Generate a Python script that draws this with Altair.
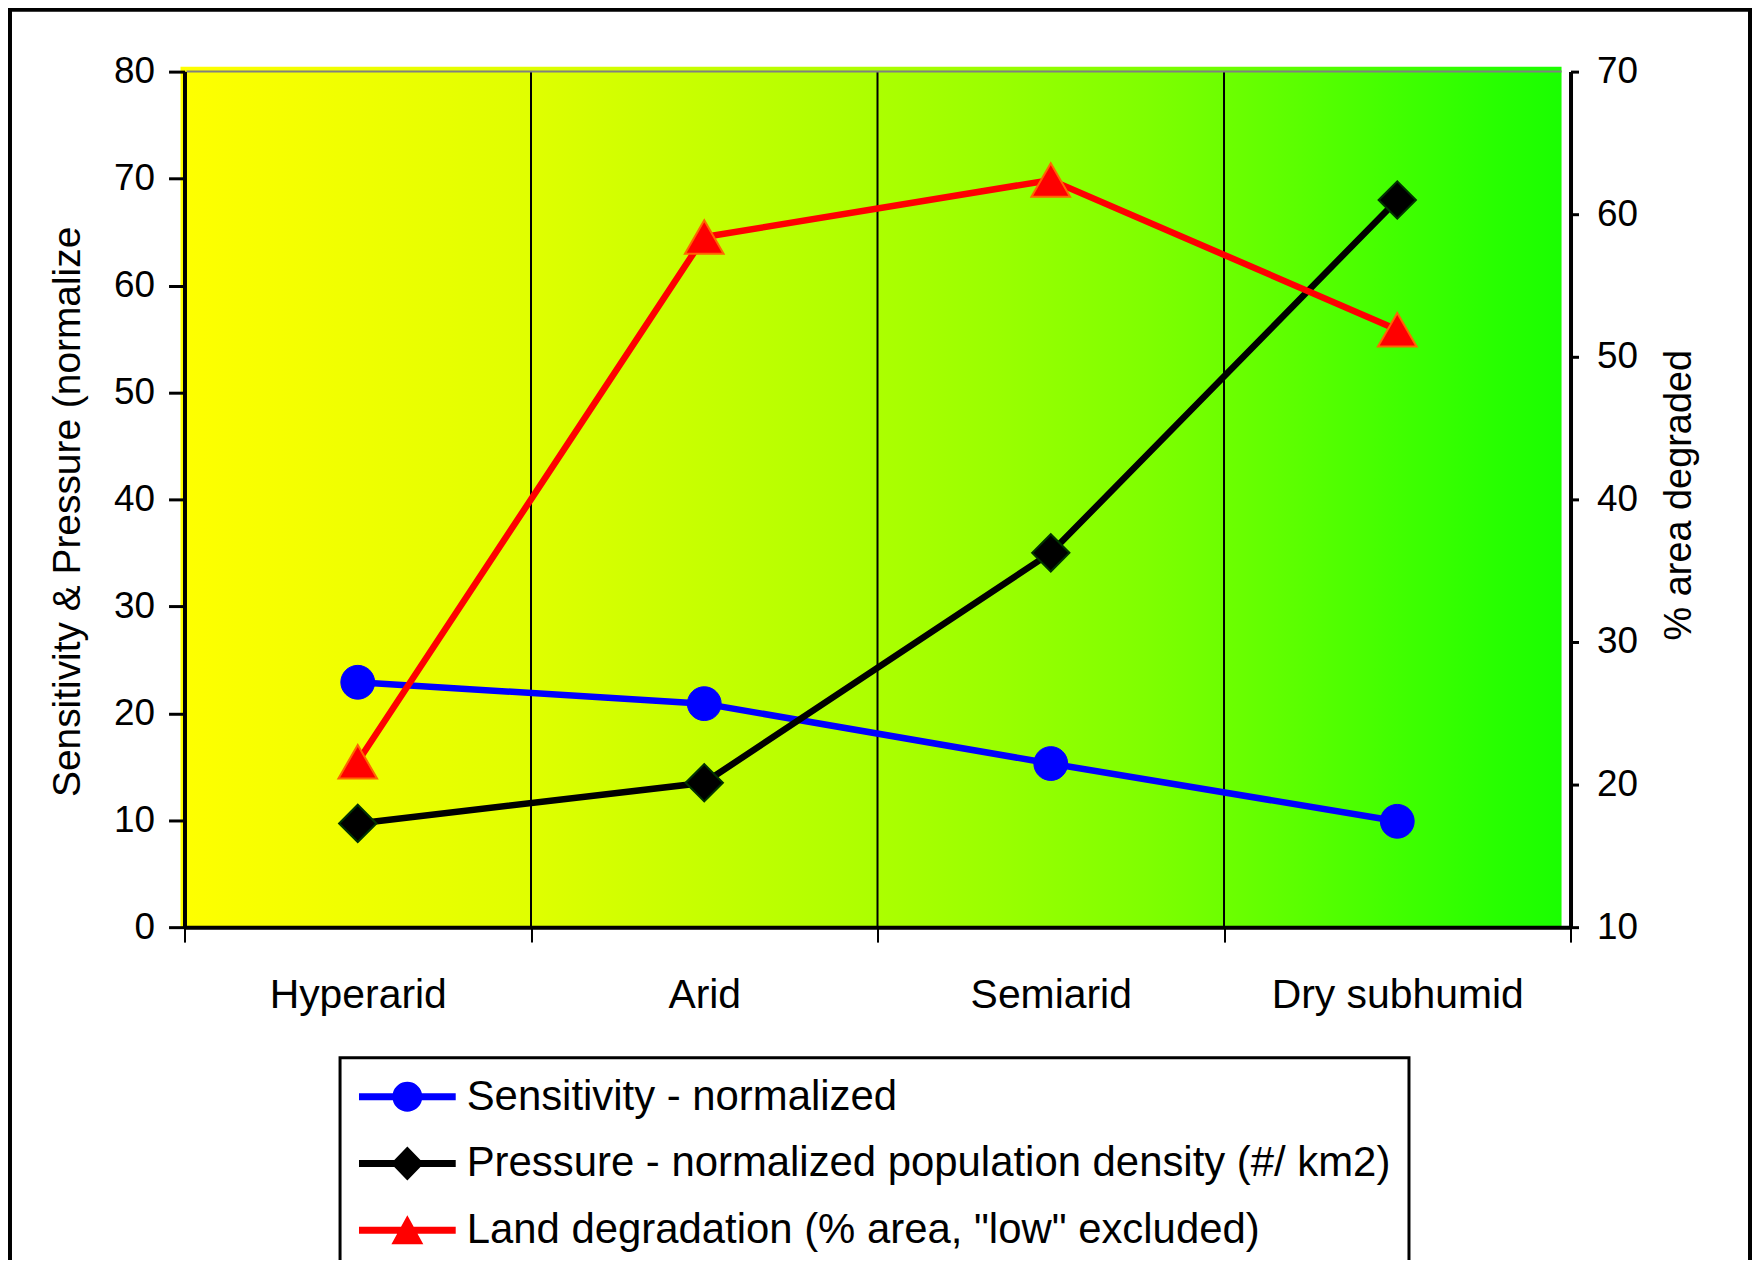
import altair as alt
import pandas as pd

# ---------------- data ----------------
categories = ["Hyperarid", "Arid", "Semiarid", "Dry subhumid"]
sensitivity = [22.9, 20.9, 15.3, 9.9]
pressure = [9.7, 13.5, 35.0, 68.0]
degradation = [21.6, 58.4, 62.4, 51.9]

series_names = [
    "Sensitivity - normalized",
    "Pressure - normalized population density (#/ km2)",
    'Land degradation (% area, "low" excluded)',
]
series_colors = ["#0000FF", "#000000", "#FF0000"]
left_ticks = [0, 10, 20, 30, 40, 50, 60, 70, 80]
right_ticks = [10, 20, 30, 40, 50, 60, 70]
left_title = "Sensitivity & Pressure (normalize"
right_title = "% area degraded"

# ---------------- style ----------------
FONT = "Liberation Sans"
W, H = 1390, 858

# legend symbols: line segment + marker (unit = 20 px)
legend_paths = [
    "M -1 -0.175 L 0.6957 -0.175 A 0.75 0.75 0 0 1 2.1543 -0.175 L 3.85 -0.175 "
    "L 3.85 0.175 L 2.1543 0.175 A 0.75 0.75 0 0 1 0.6957 0.175 L -1 0.175 Z",
    "M -1 -0.175 L 0.77 -0.175 L 1.425 -0.85 L 2.08 -0.175 L 3.85 -0.175 "
    "L 3.85 0.175 L 2.08 0.175 L 1.425 0.85 L 0.77 0.175 L -1 0.175 Z",
    "M -1 -0.175 L 1.108 -0.175 L 1.425 -0.75 L 1.742 -0.175 L 3.85 -0.175 "
    "L 3.85 0.175 L 1.935 0.175 L 2.225 0.7 L 0.625 0.7 L 0.915 0.175 L -1 0.175 Z",
]

sens_df = pd.DataFrame({"category": categories, "value": sensitivity})
pres_df = pd.DataFrame({"category": categories, "value": pressure})
deg_df = pd.DataFrame({"category": categories, "deg": degradation})
cat_df = pd.DataFrame({"category": categories})
legend_df = pd.DataFrame({"category": categories[:3], "series": series_names,
                          "value": [None, None, None]})
one = alt.Data(values=[{"k": 1}])

x_scale = alt.Scale(type="band", domain=categories, paddingInner=0, paddingOuter=0)
x_axis = alt.Axis(title=None, labelAngle=0, tickBand="extent", grid=False,
                  domainColor="black", domainWidth=4, tickColor="black",
                  tickWidth=2, tickSize=15, labelFont=FONT, labelFontSize=41,
                  labelColor="black", labelPadding=34, labelLimit=1000,
                  labelOverlap=False, zindex=1)
x_enc = alt.X("category:N", sort=categories, scale=x_scale, axis=x_axis)

y_left = alt.Y(
    "value:Q",
    scale=alt.Scale(domain=[0, 80], nice=False, zero=False),
    axis=alt.Axis(title=left_title, values=left_ticks, orient="left", grid=False,
                  domainColor="black", domainWidth=4, tickColor="black",
                  tickWidth=3, tickSize=16, labelFont=FONT, labelFontSize=37,
                  labelColor="black", labelPadding=14,
                  titleFont=FONT, titleFontSize=39, titleFontWeight="normal",
                  titleColor="black", titleAngle=270, titleAlign="left",
                  titleBaseline="middle", titleX=-117, titleY=727, zindex=1),
)
y_right = alt.Y(
    "deg:Q",
    scale=alt.Scale(domain=[10, 70], nice=False, zero=False),
    axis=alt.Axis(title=right_title, values=right_ticks, orient="right", grid=False,
                  domainColor="black", domainWidth=4, tickColor="black",
                  tickWidth=3, tickSize=8, labelFont=FONT, labelFontSize=37,
                  labelColor="black", labelPadding=18,
                  titleFont=FONT, titleFontSize=38, titleFontWeight="normal",
                  titleColor="black", titleAngle=270, titleAlign="left",
                  titleBaseline="middle", titleX=109, titleY=570, zindex=1),
)

gradient = alt.LinearGradient(
    gradient="linear",
    stops=[
        alt.GradientStop(color="#FFFF00", offset=0),
        alt.GradientStop(color="#E0FF00", offset=0.251),
        alt.GradientStop(color="#9AFF00", offset=0.591),
        alt.GradientStop(color="#7FFF00", offset=0.70),
        alt.GradientStop(color="#5BFF00", offset=0.808),
        alt.GradientStop(color="#28FF00", offset=0.952),
        alt.GradientStop(color="#1AFF00", offset=1),
    ],
    x1=0, x2=1, y1=0, y2=0,
)

bg = alt.Chart(one).mark_rect(color=gradient).encode(
    x=alt.value(-4), x2=alt.value(W - 9), y=alt.value(-5), y2=alt.value(H)
)
seps = alt.Chart(cat_df).mark_rule(color="black", strokeWidth=2).encode(
    x=alt.X("category:N", sort=categories, scale=x_scale, axis=x_axis, bandPosition=0),
    y=alt.value(0), y2=alt.value(H),
)
topline = alt.Chart(one).mark_rule(color="#808080", strokeWidth=2).encode(
    x=alt.value(2), x2=alt.value(W - 9), y=alt.value(0)
)

blue_line = alt.Chart(sens_df).mark_line(color=series_colors[0], strokeWidth=6.5).encode(
    x=x_enc, y=y_left)
blue_pts = alt.Chart(sens_df).mark_point(shape="circle", filled=True, fill=series_colors[0],
                                         stroke=series_colors[0], strokeWidth=1,
                                         size=1150, opacity=1).encode(x=x_enc, y=y_left)
black_line = alt.Chart(pres_df).mark_line(color=series_colors[1], strokeWidth=6.5).encode(
    x=x_enc, y=y_left)
black_pts = alt.Chart(pres_df).mark_point(shape="diamond", filled=True, fill=series_colors[1],
                                          stroke="#003300", strokeWidth=2,
                                          size=1400, opacity=1).encode(x=x_enc, y=y_left)

leg = alt.Legend(title=None, orient="none", legendX=156, legendY=989,
                 direction="vertical", padding=18, rowPadding=25, labelOffset=67,
                 labelFont=FONT, labelFontSize=42, labelColor="black",
                 labelLimit=1500, symbolSize=1600, symbolStrokeWidth=0,
                 symbolOpacity=1, strokeColor="black", fillColor="white")
legend_layer = alt.Chart(legend_df).mark_point(filled=True, opacity=1).encode(
    x=x_enc, y=y_left,
    fill=alt.Fill("series:N", scale=alt.Scale(domain=series_names, range=series_colors),
                  legend=leg),
    shape=alt.Shape("series:N", scale=alt.Scale(domain=series_names, range=legend_paths),
                    legend=leg),
)

frame = alt.Chart(one).mark_rect(fill="transparent", stroke="black", strokeWidth=4).encode(
    x=alt.value(-175), x2=alt.value(1570), y=alt.value(-62), y2=alt.value(1300)
)

red_line = alt.Chart(deg_df).mark_line(color=series_colors[2], strokeWidth=6.5).encode(
    x=x_enc, y=y_right)
red_pts = alt.Chart(deg_df).mark_point(shape="triangle-up", filled=True, fill=series_colors[2],
                                       stroke="#FF6600", strokeWidth=2,
                                       size=1500, opacity=1).encode(x=x_enc, y=y_right)

left = alt.layer(bg, seps, topline, blue_line, blue_pts, black_line, black_pts,
                 legend_layer, frame)
right = alt.layer(red_line, red_pts)

chart = (
    alt.layer(left, right)
    .resolve_scale(y="independent")
    .properties(width=W, height=H,
                padding={"left": 177, "top": 62, "right": 182, "bottom": 332},
                autosize=alt.AutoSizeParams(type="none"),
                background="white")
    .configure_view(stroke=None)
    .configure_legend(strokeWidth=3)
)

chart.save("out.html", embed_options={"renderer": "svg", "actions": False})
